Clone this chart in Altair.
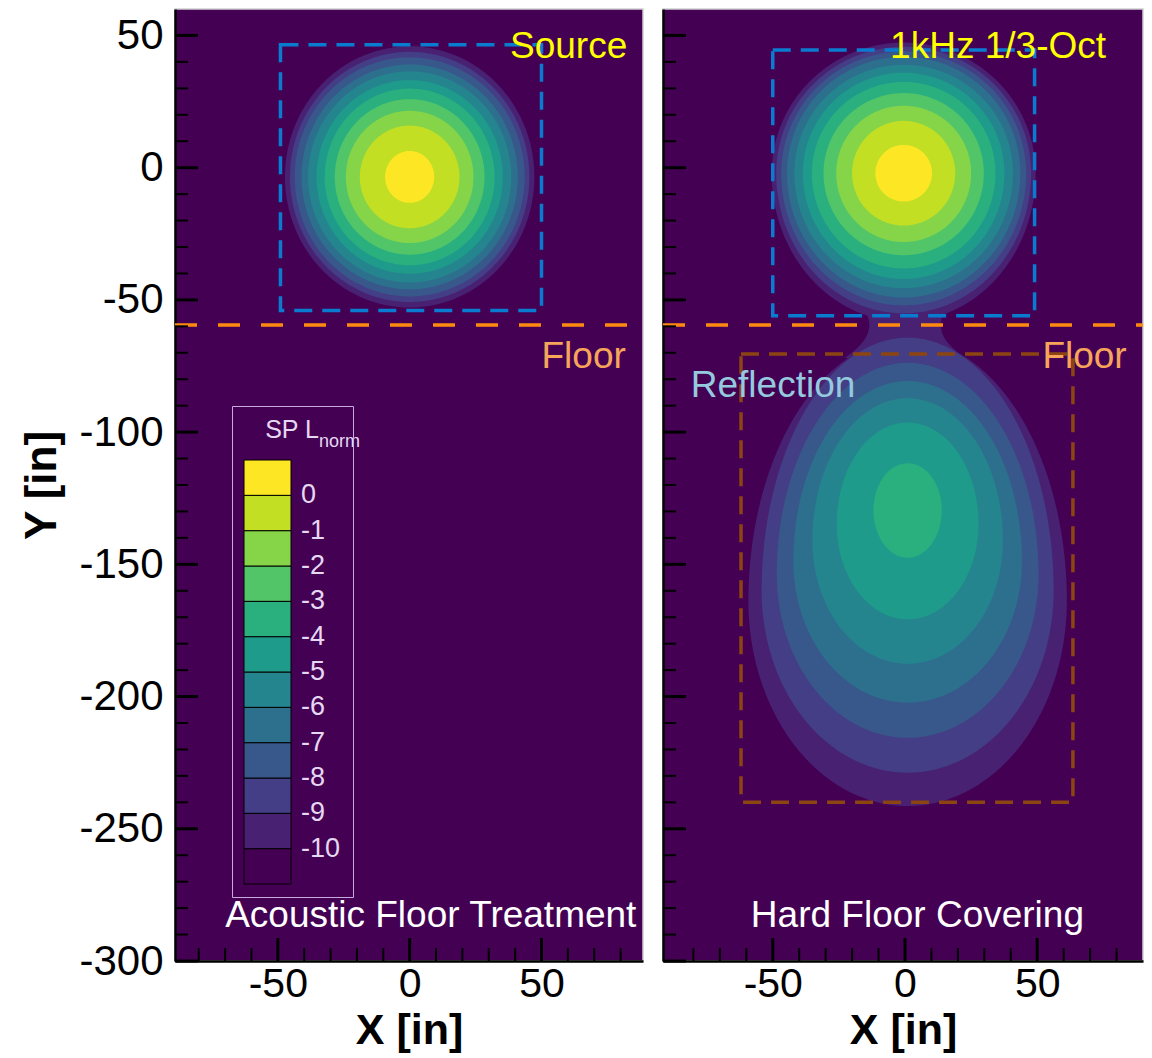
import altair as alt
import numpy as np
import pandas as pd

FONT = "Liberation Sans"

# ---------------- colour bands of SPL_norm [dB] ----------------
THRESHOLDS = [-10, -9, -8, -7, -6, -5, -4, -3, -2, -1, 0]
BAND_COLORS = ["#440154", "#482173", "#433e85", "#38588c", "#2d708e", "#25858e",
               "#1e9b8a", "#2ab07f", "#52c569", "#86d549", "#c2df23", "#fde725"]
LEVELS = [0, -1, -2, -3, -4, -5, -6, -7, -8, -9, -10]

# ---------------- Acoustic Floor Treatment: direct lobe only ----------------
AFT_CX, AFT_CY = 0.0, -3.5
AFT_HW = [9.3, 18.9, 24.2, 28.4, 32.2, 35.3, 38.5, 41.0, 43.6, 45.4, 47.3]
AFT_UP = [9.8, 19.4, 25.0, 29.4, 33.4, 36.6, 39.9, 42.5, 45.2, 47.3, 49.4]
AFT_DN = [9.8, 19.4, 25.0, 29.4, 33.4, 36.6, 39.9, 42.5, 45.2, 47.3, 49.4]

# ---------------- Hard Floor Covering: direct lobe ----------------
HFC_SRC_CX, HFC_SRC_CY = -0.5, -2.1
HFC_SRC_HW = [10.7, 19.5, 25.5, 30.3, 34.7, 38.1, 41.3, 44.1, 46.3, 48.2, 49.9]
HFC_SRC_UP = [10.7, 19.8, 25.5, 30.3, 34.5, 38.0, 41.0, 44.0, 46.0, 47.8, 49.4]
HFC_SRC_DN = [10.7, 19.8, 26.0, 31.0, 36.0, 40.0, 43.5, 47.0, 50.0, 53.0, 56.0]

# ---------------- Hard Floor Covering: floor reflection ----------------
HFC_REF_LEVELS = [-4, -5, -6, -7, -8, -9, -10]
HFC_REF_CX = 1.0
HFC_REF_WIDE_Y = [-129.5, -134.8, -141.0, -148.8, -153.7, -160.0, -163.9]
HFC_REF_HW = [12.9, 26.8, 36.0, 43.2, 49.5, 55.2, 60.2]
HFC_REF_TOP = [-111.8, -96.4, -87.2, -80.7, -73.8, -64.3, -64.9]
HFC_REF_BOTTOM = [-147.5, -170.8, -187.6, -202.3, -215.6, -228.8, -241.4]

# neck of the -10 dB contour that joins direct and reflected lobes
NECK_Y, NECK_HW, NECK_CURV = -59.5, 13.5, 0.06
NECK_FROM, NECK_TO = -72.0, -47.0

FLOOR_Y = [-59.5]

BOXES_AFT = [{"x": -49.0, "x2": 50.0, "y": -54.0, "y2": 46.5, "color": "#0a7ccf"}]
BOXES_HFC = [{"x": -50.0, "x2": 49.0, "y": -56.0, "y2": 44.5, "color": "#0a7ccf"},
             {"x": -62.0, "x2": 63.5, "y": -240.0, "y2": -70.5, "color": "#8c4511"}]

LABELS_AFT = [
    {"x": 60.3, "y": 41.6, "text": "Source", "color": "#ffff00"},
    {"x": 66.0, "y": -75.8, "text": "Floor", "color": "#f7a55a"},
    {"x": 8.0, "y": -287.3, "text": "Acoustic Floor Treatment", "color": "#ffffff"},
]
LABELS_HFC = [
    {"x": 35.2, "y": 41.6, "text": "1kHz 1/3-Oct", "color": "#ffff00"},
    {"x": 67.9, "y": -75.8, "text": "Floor", "color": "#f7a55a"},
    {"x": -49.9, "y": -86.9, "text": "Reflection", "color": "#94c9de"},
    {"x": 4.7, "y": -287.3, "text": "Hard Floor Covering", "color": "#ffffff"},
]

Y_MAJOR = [-300, -250, -200, -150, -100, -50, 0, 50]
Y_MINOR = [v for v in range(-290, 60, 10) if v % 50 != 0]
X_MAJOR = [-50, 0, 50]
X_MINOR = [v for v in range(-80, 90, 10) if v % 50 != 0]

H = 952
W_AFT, W_HFC = 468, 480
Y_DOMAIN = [-300, 60]


# ---------------- contour outlines ----------------
def lobe_outline(cx, cy, hw, up, dn, n=90):
    """Outline of a lobe built from two half-ellipses meeting at its widest row."""
    th = np.linspace(-np.pi / 2, np.pi / 2, 2 * n + 1)
    s = np.sin(th)
    y = np.where(s < 0, cy + dn * s, cy + up * s)
    w = hw * np.cos(th)
    return y, cx - w, cx + w


def lobe_width(y, cy, hw, up, dn):
    d = y - cy
    r = np.where(d >= 0, up, dn)
    return hw * np.sqrt(np.clip(1 - (d / r) ** 2, 0, None))


def rows_from(level, part, y, xl, xr):
    return [{"level": level, "part": part, "y": round(float(a), 3),
             "xl": round(float(b), 3), "xr": round(float(c), 3)}
            for a, b, c in zip(y, xl, xr)]


aft_rows = []
for i, lev in enumerate(LEVELS):
    y, xl, xr = lobe_outline(AFT_CX, AFT_CY, AFT_HW[i], AFT_UP[i], AFT_DN[i])
    aft_rows += rows_from(lev, "src", y, xl, xr)

hfc_rows = []
for i, lev in enumerate(LEVELS):
    if lev == -10:
        continue
    y, xl, xr = lobe_outline(HFC_SRC_CX, HFC_SRC_CY, HFC_SRC_HW[i], HFC_SRC_UP[i], HFC_SRC_DN[i])
    hfc_rows += rows_from(lev, "src", y, xl, xr)
for j, lev in enumerate(HFC_REF_LEVELS):
    if lev == -10:
        continue
    wy = HFC_REF_WIDE_Y[j]
    y, xl, xr = lobe_outline(HFC_REF_CX, wy, HFC_REF_HW[j],
                             HFC_REF_TOP[j] - wy, wy - HFC_REF_BOTTOM[j])
    hfc_rows += rows_from(lev, "ref", y, xl, xr)

# -10 dB contour: direct lobe, neck and reflected lobe form one region
s_i = LEVELS.index(-10)
r_i = HFC_REF_LEVELS.index(-10)
s_par = (HFC_SRC_CY, HFC_SRC_HW[s_i], HFC_SRC_UP[s_i], HFC_SRC_DN[s_i])
r_wy = HFC_REF_WIDE_Y[r_i]
r_par = (r_wy, HFC_REF_HW[r_i], HFC_REF_TOP[r_i] - r_wy, r_wy - HFC_REF_BOTTOM[r_i])
ys1 = lobe_outline(HFC_SRC_CX, *s_par)[0]
ys2 = lobe_outline(HFC_REF_CX, *r_par)[0]
y_lo, y_hi = HFC_REF_BOTTOM[r_i], HFC_SRC_CY + HFC_SRC_UP[s_i]
yy = np.unique(np.concatenate([ys1, ys2, np.arange(y_lo, y_hi, 0.5), [y_lo, y_hi]]))
w_s = lobe_width(yy, *s_par)
w_r = lobe_width(yy, *r_par)
w_n = np.where((yy >= NECK_FROM) & (yy <= NECK_TO), NECK_HW + NECK_CURV * (yy - NECK_Y) ** 2, 0.0)
cxs = np.array([HFC_SRC_CX, HFC_REF_CX, 0.0])
W = np.vstack([w_s, w_r, w_n])
lefts = np.where(W > 0, cxs[:, None] - W, np.inf).min(axis=0)
rights = np.where(W > 0, cxs[:, None] + W, -np.inf).max(axis=0)
mid = np.where(yy > NECK_Y, HFC_SRC_CX, HFC_REF_CX)
lefts = np.where(np.isfinite(lefts), lefts, mid)
rights = np.where(np.isfinite(rights), rights, mid)
hfc_rows += rows_from(-10, "all", yy, lefts, rights)

aft_df = pd.DataFrame(aft_rows)
hfc_df = pd.DataFrame(hfc_rows)

# ---------------- chart ----------------
yscale = alt.Scale(domain=Y_DOMAIN, nice=False, zero=False)
color_scale = alt.Scale(type="threshold", domain=THRESHOLDS, range=BAND_COLORS)
LAV = "#e6d8f2"

legend = alt.Legend(
    orient="none", legendX=57, legendY=397, type="gradient", direction="vertical",
    title="SP L", titleFont=FONT, titleFontSize=25, titleFontWeight="normal",
    titleColor=LAV, titleAnchor="middle", titlePadding=17,
    gradientLength=424, gradientThickness=47,
    gradientStrokeColor="black", gradientStrokeWidth=1,
    labelFont=FONT, labelFontSize=27, labelColor=LAV, labelOffset=10,
    labelExpr="isFinite(datum.value) ? '' + datum.value : ''", labelOverlap=False,
    padding=12, strokeColor="#c9a9dc",
)


def panel(df, xdom, width, boxes, labels, show_y, leg):
    xscale = alt.Scale(domain=xdom, nice=False, zero=False)
    xaxis = alt.Axis(values=X_MAJOR, labelExpr="'' + datum.value", ticks=False,
                     domainColor="black", domainWidth=2.5, grid=False,
                     labelFont=FONT, labelFontSize=41, labelColor="black", labelPadding=3,
                     title="X [in]", titleFont=FONT, titleFontSize=43, titleFontWeight="bold",
                     titleColor="black", titlePadding=5)
    if show_y:
        yaxis = alt.Axis(values=Y_MAJOR, labelExpr="'' + datum.value", ticks=False,
                         domainColor="black", domainWidth=2.5, grid=False,
                         labelFont=FONT, labelFontSize=42, labelColor="black", labelPadding=12,
                         title="Y [in]", titleFont=FONT, titleFontSize=44, titleFontWeight="bold",
                         titleColor="black", titlePadding=14)
    else:
        yaxis = alt.Axis(values=Y_MAJOR, labels=False, ticks=False, domainColor="black",
                         domainWidth=2.5, grid=False, title=None)

    def X(field):
        return alt.X(field, scale=xscale, axis=xaxis)

    def Y(field):
        return alt.Y(field, scale=yscale, axis=yaxis)

    layers = []
    for lev in sorted(LEVELS):
        layers.append(
            alt.Chart(df).transform_filter(alt.datum.level == lev)
            .mark_area(orient="horizontal", interpolate="linear")
            .encode(
                y=Y("y:Q"), x=X("xl:Q"), x2="xr:Q",
                detail="part:N",
                color=alt.Color("level:Q", scale=color_scale, legend=leg),
            )
        )

    layers.append(
        alt.Chart(pd.DataFrame(boxes))
        .mark_rect(filled=False, strokeWidth=3.5, strokeDash=[18, 10])
        .encode(x=X("x:Q"), x2="x2:Q", y=Y("y:Q"), y2="y2:Q",
                stroke=alt.Stroke("color:N", scale=None))
    )
    layers.append(
        alt.Chart(pd.DataFrame({"y": FLOOR_Y}))
        .mark_rule(color="#ff8a10", strokeWidth=3.5, strokeDash=[22, 21])
        .encode(y=Y("y:Q"), x=alt.value(0), x2=alt.value(width))
    )
    # inward ticks along the left and bottom edges
    layers.append(
        alt.Chart(pd.DataFrame({"v": Y_MAJOR})).mark_rule(color="black", strokeWidth=3)
        .encode(y=Y("v:Q"), x=alt.value(0), x2=alt.value(23))
    )
    layers.append(
        alt.Chart(pd.DataFrame({"v": Y_MINOR})).mark_rule(color="black", strokeWidth=2)
        .encode(y=Y("v:Q"), x=alt.value(0), x2=alt.value(13))
    )
    layers.append(
        alt.Chart(pd.DataFrame({"v": X_MAJOR})).mark_rule(color="black", strokeWidth=3)
        .encode(x=X("v:Q"), y=alt.value(H), y2=alt.value(H - 23))
    )
    layers.append(
        alt.Chart(pd.DataFrame({"v": X_MINOR})).mark_rule(color="black", strokeWidth=2)
        .encode(x=X("v:Q"), y=alt.value(H), y2=alt.value(H - 13))
    )
    layers.append(
        alt.Chart(pd.DataFrame(labels))
        .mark_text(font=FONT, fontSize=37, baseline="alphabetic", align="center")
        .encode(x=X("x:Q"), y=Y("y:Q"),
                text="text:N", color=alt.Color("color:N", scale=None))
    )
    if leg is not None:
        layers.append(
            alt.Chart(pd.DataFrame({"t": ["norm"]}))
            .mark_text(font=FONT, fontSize=18, color=LAV, align="left", baseline="alphabetic")
            .encode(text="t:N", x=alt.value(144), y=alt.value(438))
        )
    return alt.layer(*layers).properties(width=width, height=H)


left = panel(aft_df, [-89, 88.5], W_AFT, BOXES_AFT, LABELS_AFT, True, legend)
right = panel(hfc_df, [-91.5, 90], W_HFC, BOXES_HFC, LABELS_HFC, False, None)

chart = (
    alt.hconcat(left, right, spacing=14)
    .resolve_scale(x="independent", y="shared", color="shared")
    .properties(padding={"left": 20, "top": 8, "right": 0, "bottom": 0})
    .configure(background="white")
    .configure_view(fill="#440154", stroke="#d0d0d0", strokeWidth=1.5)
)

chart.save("out.html", embed_options={"renderer": "svg", "actions": False})
